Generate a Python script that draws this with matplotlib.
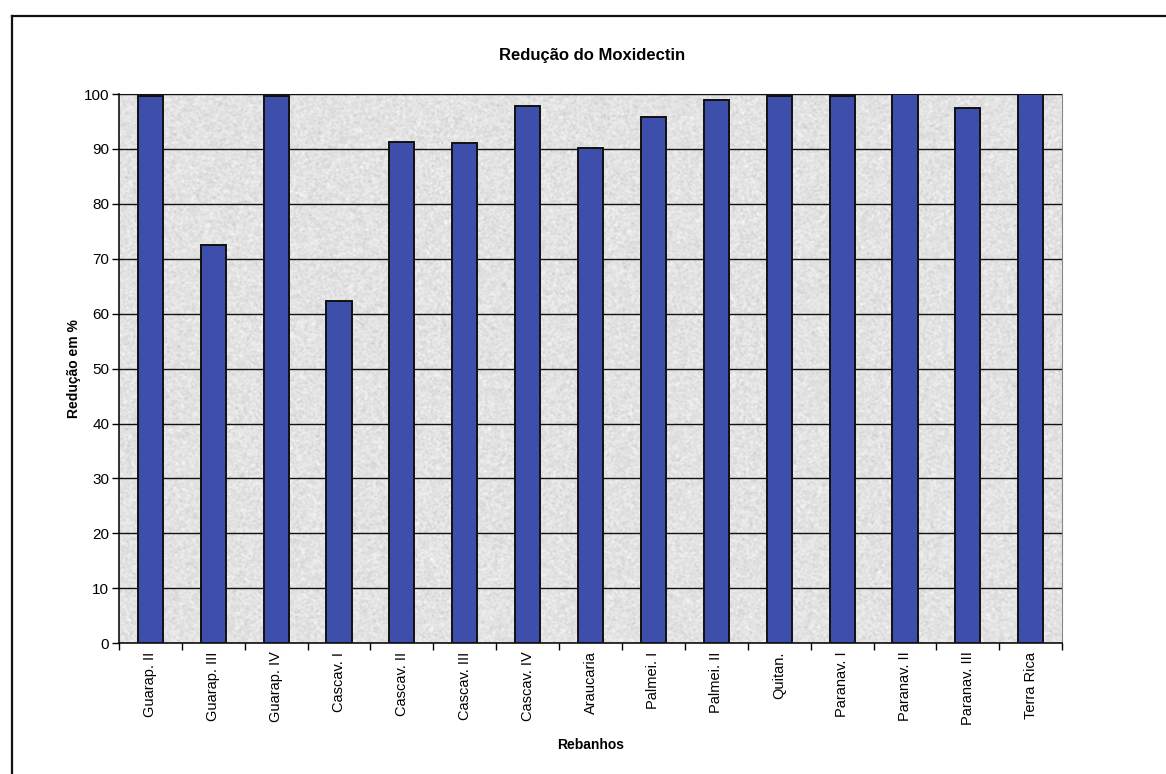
import numpy as np
import matplotlib
matplotlib.use("Agg")
import matplotlib.pyplot as plt
from matplotlib.lines import Line2D

plt.rcParams['font.family'] = ['Liberation Sans', 'DejaVu Sans']

rebanhos = ["Guarap. II", "Guarap. III", "Guarap. IV", "Cascav. I", "Cascav. II",
            "Cascav. III", "Cascav. IV", "Araucaria", "Palmei. I", "Palmei. II",
            "Quitan.", "Paranav. I", "Paranav. II", "Paranav. III", "Terra Rica"]
reducao = [99.7, 72.5, 99.6, 62.3, 91.3, 91.0, 97.8, 90.2, 95.9, 98.9,
           99.6, 99.6, 100.0, 97.4, 100.0]
yticks = list(range(0, 101, 10))

fig = plt.figure(figsize=(11.66, 7.74), dpi=100)
ax = fig.add_axes([0.102, 0.169, 0.809, 0.7095])

# granite-style plot-area fill
rng = np.random.default_rng(7)
grain = rng.normal(0.0, 1.0, (550, 950))
k = np.array([0.25, 0.5, 0.25])
grain = np.apply_along_axis(lambda r: np.convolve(r, k, mode='same'), 1, grain)
grain = np.apply_along_axis(lambda c: np.convolve(c, k, mode='same'), 0, grain)
shade = np.clip(0.89 + 0.06 * grain, 0.72, 0.99)
ax.imshow(np.dstack([shade, shade, shade * 1.005]).clip(0, 1),
          extent=[0, 1, 0, 1], transform=ax.transAxes, aspect='auto',
          interpolation='bilinear', zorder=0)

x = np.arange(len(rebanhos))
ax.bar(x, reducao, width=0.4, color='#3e4fab', edgecolor='#111111',
       linewidth=1.4, zorder=3)

ax.set_xlim(-0.5, len(rebanhos) - 0.5)
ax.set_ylim(0, 100)
ax.set_yticks(yticks)
ax.set_yticklabels([str(v) for v in yticks], fontsize=11)
ax.yaxis.grid(True, color='#111111', linewidth=1.0)
ax.set_axisbelow(False)
for gl in ax.get_ygridlines():
    gl.set_zorder(2)

ax.set_xticks(x)
ax.set_xticklabels(rebanhos, rotation=90, fontsize=10.5)
ax.tick_params(axis='x', length=0, pad=6)
ax.set_xticks(np.arange(-0.5, len(rebanhos), 1.0), minor=True)
ax.tick_params(axis='x', which='minor', length=5, width=1.0, direction='out')
ax.tick_params(axis='y', length=5, width=1.0, direction='out', pad=2)

for s in ['top', 'right']:
    ax.spines[s].set_color('#888888')
    ax.spines[s].set_linewidth(0.8)
for s in ['left', 'bottom']:
    ax.spines[s].set_color('#111111')
    ax.spines[s].set_linewidth(1.2)

ax.set_ylabel("Redução em %", fontsize=10, fontweight='bold', labelpad=2)
ax.set_xlabel("Rebanhos", fontsize=10, fontweight='bold', labelpad=9)
fig.text(0.508, 0.928, "Redução do Moxidectin", ha='center', va='center',
         fontsize=12, fontweight='bold')

# outer chart frame
fig.add_artist(Line2D([0.0106, 1.0], [0.979, 0.979], transform=fig.transFigure,
                      color='#111111', linewidth=1.6))
fig.add_artist(Line2D([0.0106, 0.0106], [0.0, 0.979], transform=fig.transFigure,
                      color='#111111', linewidth=1.6))

fig.savefig("out.png", dpi=100, facecolor='white')
